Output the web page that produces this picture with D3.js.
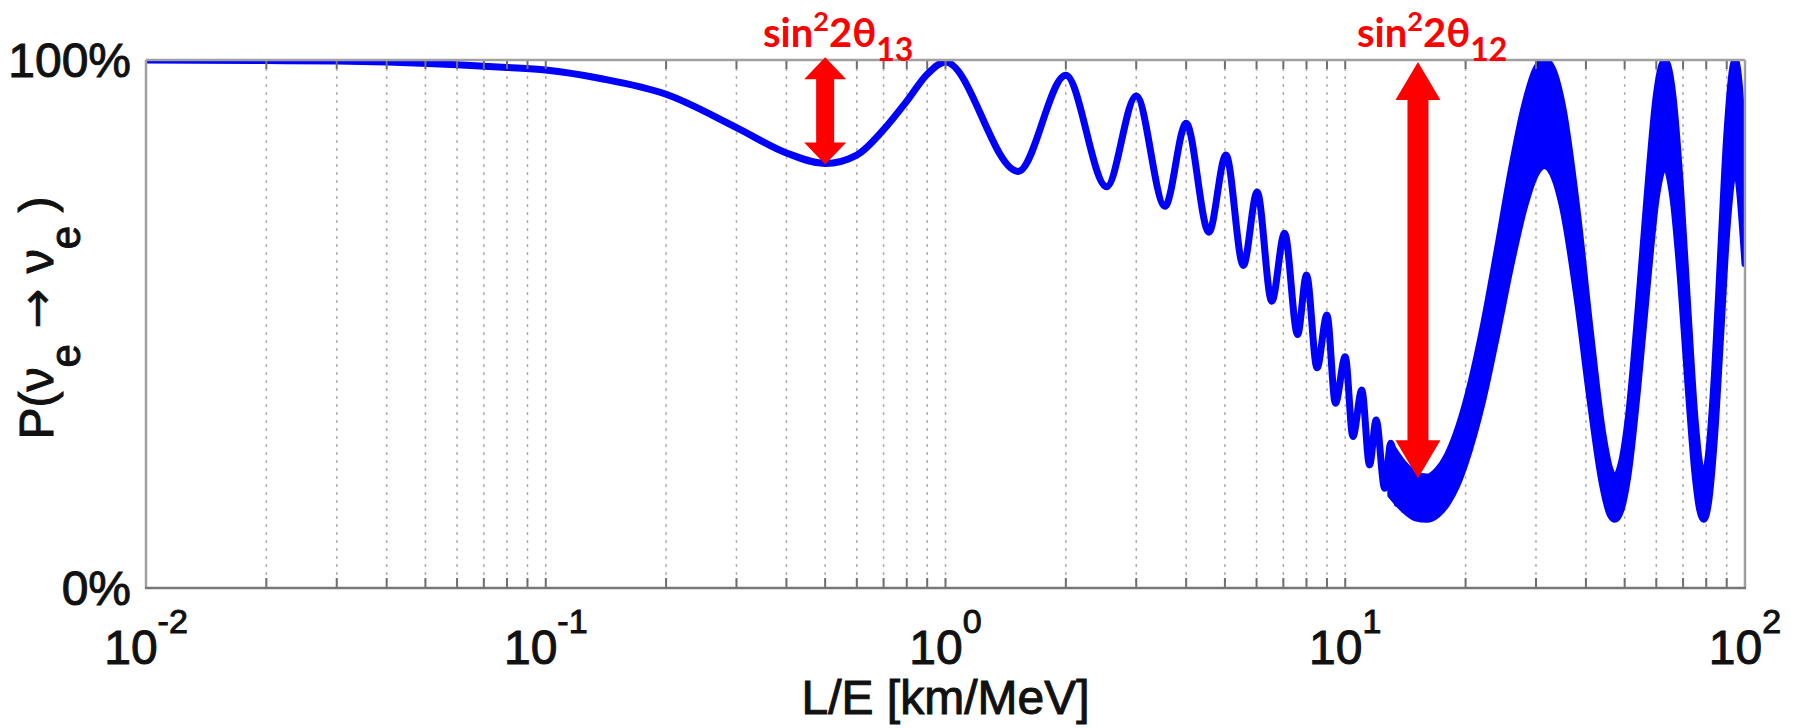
<!DOCTYPE html>
<html>
<head>
<meta charset="utf-8">
<script src="https://cdn.jsdelivr.net/npm/d3@7"></script>
<style>
  html, body { margin: 0; padding: 0; background: #fff; }
  svg { display: block; }
</style>
</head>
<body>
<svg id="chart" width="1797" height="728"></svg>
<script>
// ---------- data ----------
// single oscillating curve (L/E in km/MeV, survival probability in %)
const lineLE = [0.01,0.02,0.03,0.04,0.06,0.08,0.1,0.137,0.2,0.3,0.4,0.5,0.6,0.7,0.8,0.9,1.0,
  1.52,2.0,2.53,3.0,3.54,4.0,4.56,5.03,5.56,6.02,6.55,7.05,7.6,8.0,8.5,9.0,9.45,10.0,10.45,
  11.0,11.5,11.95,12.55,13.0,13.5];
const lineP = [100,99.9,99.8,99.6,99.1,98.6,98.1,96.5,93.5,87.2,82.4,80.4,82.0,86.8,92.2,97.3,99.6,
  78.9,97.1,76.0,93.2,72.3,88.0,67.4,82.0,61.1,75.0,54.3,67.2,48.0,59.3,41.7,51.7,35.0,43.8,28.7,
  37.5,23.3,31.8,18.9,27.4,16.0];
// fast-oscillation band at large L/E: upper and lower edges (%)
const bandLE = [13.0,14,15,16,17,18,19,20,22,24,26,28,30,31.5,33,35,38,41,44,46,
  47.3,49,51,54,57,60,63,66,69,72,75,77,78.8,81,84,87,90,94.5,100];
const bandUpper = [27.0,23.5,21.5,21.0,22.3,25.1,29.4,34.9,48.5,64.0,79.0,90.9,98.3,100,98.3,91.0,71.6,48.8,29.6,22.3,
  21.0,23.5,31.9,52.5,74.9,93.3,100,93.3,75.5,52.5,31.9,23.5,21.0,25.1,41.3,64.0,85.5,100,79.0];
const bandLower = [17.6,14.9,13.3,13.0,13.9,16.1,19.4,23.9,35.1,48.4,61.4,71.9,78.5,80,78.5,72.0,55.0,35.4,19.6,13.9,
  13.0,14.9,21.5,38.5,57.7,74.0,80,74.0,58.3,38.5,21.5,14.9,13.0,16.1,29.2,48.4,67.4,80,61.4];
// axes
const xDomain = [0.01, 100];
const xMajorExp = [-2, -1, 0, 1, 2];
const yTickValues = [0, 100];
const yTickLabels = ["0%", "100%"];
// annotations: subscript, L/E position, top %, bottom %
const annoSub = ["13", "12"];
const annoLE = [0.5, 15.2];
const annoTop = [100.5, 99.6];
const annoBottom = [80.2, 20.8];

// ---------- drawing ----------
const svg = d3.select("#chart");
const L = 146, R = 1745, T = 60, B = 588;
const x = d3.scaleLog().domain(xDomain).range([L, R]);
const y = d3.scaleLinear().domain([0, 100]).range([B, T]);

svg.append("rect").attr("width", 1797).attr("height", 728).attr("fill", "#fff");

svg.append("defs").append("clipPath").attr("id", "clip")
  .append("rect").attr("x", L).attr("y", T).attr("width", R - L).attr("height", B - T);

// grid & minor ticks
const minor = [];
for (let e = -2; e < 2; e++) for (let m = 1; m <= 9; m++) {
  const v = m * Math.pow(10, e);
  if (v > xDomain[0]) minor.push(v);
}
const grid = svg.append("g");
grid.selectAll("line").data(minor).join("line")
  .attr("x1", d => x(d)).attr("x2", d => x(d))
  .attr("y1", T).attr("y2", B)
  .attr("stroke", "#b0b0b0").attr("stroke-width", 1.5)
  .attr("stroke-dasharray", "3,5");

// curve
const plot = svg.append("g").attr("clip-path", "url(#clip)");
const bandData = bandLE.map((v, i) => [v, bandLower[i], bandUpper[i]]);
const area = d3.area()
  .x(d => x(d[0])).y0(d => y(d[1])).y1(d => y(d[2]))
  .curve(d3.curveMonotoneX);
plot.append("path").datum(bandData).attr("d", area)
  .attr("fill", "#0000ff").attr("stroke", "#0000ff")
  .attr("stroke-width", 7).attr("stroke-linejoin", "round");

const lineData = lineLE.map((v, i) => [v, lineP[i]]);
const line = d3.line().x(d => x(d[0])).y(d => y(d[1])).curve(d3.curveMonotoneX);
plot.append("path").datum(lineData).attr("d", line)
  .attr("fill", "none").attr("stroke", "#0000ff")
  .attr("stroke-width", 7).attr("stroke-linejoin", "round").attr("stroke-linecap", "round");

// ticks (top & bottom, inward)
const ticks = svg.append("g").attr("stroke", "#6e6e6e").attr("stroke-width", 2);
const allTicks = minor.concat([100]);
ticks.selectAll("line.b").data(allTicks).join("line").attr("class", "b")
  .attr("x1", d => x(d)).attr("x2", d => x(d)).attr("y1", B).attr("y2", B - 10);
ticks.selectAll("line.t").data(allTicks).join("line").attr("class", "t")
  .attr("x1", d => x(d)).attr("x2", d => x(d)).attr("y1", T).attr("y2", T + 9);

// axis box
svg.append("line").attr("x1", L).attr("x2", R).attr("y1", T).attr("y2", T)
  .attr("stroke", "#a0a0a0").attr("stroke-width", 2.5);
svg.append("line").attr("x1", R).attr("x2", R).attr("y1", T).attr("y2", B)
  .attr("stroke", "#a0a0a0").attr("stroke-width", 2.5);
svg.append("line").attr("x1", L).attr("x2", L).attr("y1", T).attr("y2", B)
  .attr("stroke", "#a0a0a0").attr("stroke-width", 2.5);
svg.append("line").attr("x1", L - 1).attr("x2", R + 1).attr("y1", B).attr("y2", B)
  .attr("stroke", "#777").attr("stroke-width", 2.5);

const font = "'Liberation Sans', Arial, Helvetica, sans-serif";

// y tick labels
svg.selectAll("text.yt").data(yTickValues).join("text").attr("class", "yt")
  .attr("x", 131).attr("y", d => y(d)).attr("dy", "0.36em")
  .attr("text-anchor", "end").attr("font-family", font).attr("font-size", 48)
  .attr("fill", "#111").attr("stroke", "#111").attr("stroke-width", 1)
  .text((d, i) => yTickLabels[i]);

// x tick labels 10^n
const xl = svg.selectAll("text.xt").data(xMajorExp).join("text").attr("class", "xt")
  .attr("x", d => x(Math.pow(10, d))).attr("y", 664)
  .attr("text-anchor", "middle").attr("font-family", font).attr("font-size", 48)
  .attr("fill", "#111").attr("stroke", "#111").attr("stroke-width", 1);
xl.append("tspan").text("10");
xl.append("tspan").attr("font-size", 34).attr("dy", -31).text(d => d < 0 ? "-" + Math.abs(d) : String(d));

// x axis title
svg.append("text").attr("x", (L + R) / 2).attr("y", 714)
  .attr("text-anchor", "middle").attr("font-family", font).attr("font-size", 48)
  .attr("fill", "#111").attr("stroke", "#111").attr("stroke-width", 1)
  .text("L/E [km/MeV]");

// y axis title
const yt = svg.append("text").attr("transform", "translate(53,318) rotate(-90)")
  .attr("text-anchor", "middle").attr("font-family", font).attr("font-size", 48)
  .attr("fill", "#111").attr("stroke", "#111").attr("stroke-width", 1);
yt.append("tspan").text("P(ν");
yt.append("tspan").attr("font-size", 42).attr("dy", 27).text("e");
yt.append("tspan").attr("dy", -27).attr("font-family", "'DejaVu Sans', sans-serif")
  .attr("stroke-width", 0.4).text(" → ");
yt.append("tspan").text("ν");
yt.append("tspan").attr("font-size", 42).attr("dy", 27).text("e");
yt.append("tspan").attr("dy", -27).text(" )");

// annotations
const annoX = [763, 1357];
annoSub.forEach((sub, i) => {
  const t = svg.append("text").attr("x", annoX[i]).attr("y", 47)
    .attr("font-family", "Lato, 'Open Sans', sans-serif").attr("font-weight", 700)
    .attr("font-size", 40).attr("fill", "#ff0000");
  t.append("tspan").text("sin");
  t.append("tspan").attr("font-size", 27).attr("dy", -16).text("2");
  t.append("tspan").attr("dy", 16).text("2θ");
  t.append("tspan").attr("font-size", 32).attr("dy", 14).text(sub);

  const cx = x(annoLE[i]);
  const y1 = y(annoTop[i]), y2 = y(annoBottom[i]);
  const hl = i === 0 ? 22 : 38, hw = i === 0 ? 21 : 22.5, sw = i === 0 ? 9 : 10.5;
  const p = d3.path();
  p.moveTo(cx, y1);
  p.lineTo(cx + hw, y1 + hl); p.lineTo(cx + sw, y1 + hl);
  p.lineTo(cx + sw, y2 - hl); p.lineTo(cx + hw, y2 - hl);
  p.lineTo(cx, y2);
  p.lineTo(cx - hw, y2 - hl); p.lineTo(cx - sw, y2 - hl);
  p.lineTo(cx - sw, y1 + hl); p.lineTo(cx - hw, y1 + hl);
  p.closePath();
  svg.append("path").attr("d", p.toString()).attr("fill", "#ff0000");
});
</script>
</body>
</html>
